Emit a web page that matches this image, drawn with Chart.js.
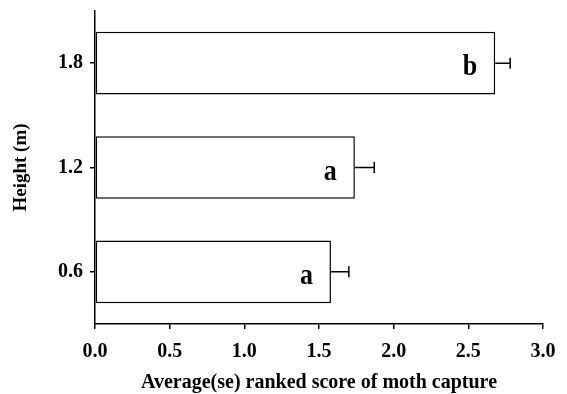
<!DOCTYPE html>
<html>
<head>
<meta charset="utf-8">
<script src="https://cdn.jsdelivr.net/npm/chart.js@4/dist/chart.umd.min.js"></script>
<style>
  html, body { margin: 0; padding: 0; background: #fff; }
  #wrap { width: 567px; height: 394px; }
</style>
</head>
<body>
<div id="wrap"><canvas id="c" width="567" height="394"></canvas></div>
<script>
// Trap heights (top to bottom), mean ranked capture score, standard error, significance letters
const heights = ['1.8', '1.2', '0.6'];
const meanScore = [2.68, 1.74, 1.58];
const stdErr = [0.10, 0.13, 0.12];
const groupLetters = ['b', 'a', 'a'];
const xTickValues = [0, 0.5, 1.0, 1.5, 2.0, 2.5, 3.0];

const SERIF = '"Liberation Serif", "Times New Roman", serif';

// Error bars (positive side only, with end cap) and letter labels inside the bars
const barExtras = {
  id: 'barExtras',
  afterDatasetsDraw(chart) {
    const ctx = chart.ctx;
    const xs = chart.scales.x;
    const ys = chart.scales.y;
    meanScore.forEach((m, i) => {
      const y = ys.getPixelForValue(i);
      const x0 = xs.getPixelForValue(m);
      const x1 = xs.getPixelForValue(m + stdErr[i]);
      ctx.save();
      ctx.strokeStyle = '#000';
      ctx.lineWidth = 1.5;
      ctx.beginPath();
      ctx.moveTo(x0, y);
      ctx.lineTo(x1, y);
      ctx.moveTo(x1, y - 5.5);
      ctx.lineTo(x1, y + 5.5);
      ctx.stroke();

      // slightly tall letter, anchored on its baseline
      ctx.translate(x0 - 18, y + 12);
      ctx.scale(1, 1.15);
      ctx.fillStyle = '#000';
      ctx.font = 'bold 26px ' + SERIF;
      ctx.textAlign = 'right';
      ctx.textBaseline = 'alphabetic';
      ctx.fillText(groupLetters[i], 0, 0);
      ctx.restore();
    });
  }
};

new Chart(document.getElementById('c'), {
  type: 'bar',
  data: {
    labels: heights,
    datasets: [{
      data: meanScore,
      backgroundColor: '#ffffff',
      borderColor: '#000000',
      borderWidth: 1.5,
      borderSkipped: false,
      barPercentage: 0.6,
      categoryPercentage: 1.0
    }]
  },
  options: {
    indexAxis: 'y',
    responsive: false,
    animation: false,
    events: [],
    layout: { padding: { top: 0, right: 24, left: 0, bottom: 0 } },
    plugins: { legend: { display: false }, tooltip: { enabled: false } },
    scales: {
      x: {
        type: 'linear',
        min: 0,
        max: 3,
        afterBuildTicks(scale) {
          scale.ticks = xTickValues.map(v => ({ value: v }));
        },
        afterFit(scale) { scale.height = 70; },
        border: { display: true, color: '#000', width: 1.5 },
        grid: { display: true, drawOnChartArea: false, drawTicks: true, tickLength: 5, tickColor: '#000', lineWidth: 1.5 },
        ticks: {
          color: '#000',
          padding: 11,
          maxRotation: 0,
          font: { family: SERIF, size: 20, weight: 'bold' },
          callback: v => Number(v).toFixed(1)
        },
        title: {
          display: true,
          text: 'Average(se) ranked score of moth capture',
          color: '#000',
          font: { family: SERIF, size: 20, weight: 'bold' },
          padding: { top: 0, bottom: -1 }
        }
      },
      y: {
        type: 'category',
        offset: true,
        afterFit(scale) {
          scale.width = 95;
          scale.paddingTop = 11;
          scale.paddingBottom = 0;
        },
        border: { display: true, color: '#000', width: 1.5 },
        grid: { display: true, offset: false, drawOnChartArea: false, drawTicks: true, tickLength: 5, tickColor: '#000', lineWidth: 1.5 },
        ticks: {
          color: '#000',
          padding: 7,
          font: { family: SERIF, size: 20, weight: 'bold' }
        },
        title: {
          display: true,
          text: 'Height (m)',
          color: '#000',
          font: { family: SERIF, size: 19, weight: 'bold' },
          padding: { top: 10, bottom: 0 }
        }
      }
    }
  },
  plugins: [barExtras]
});
</script>
</body>
</html>
